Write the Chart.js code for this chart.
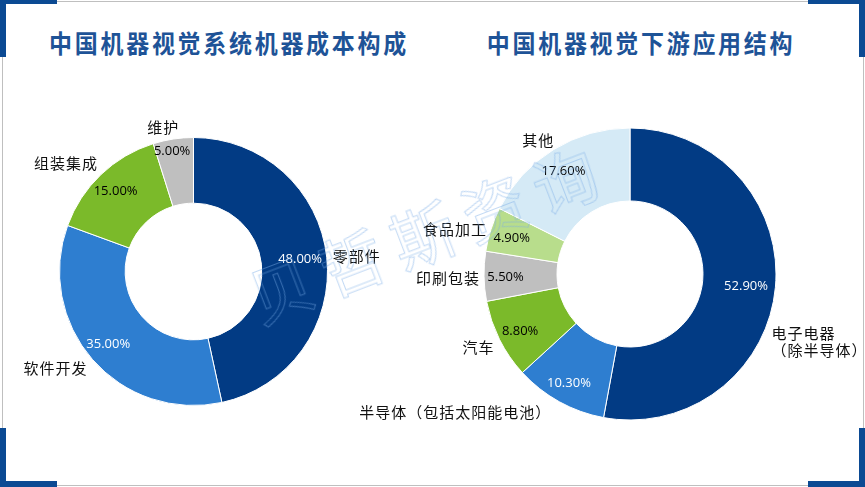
<!DOCTYPE html>
<html>
<head>
<meta charset="utf-8">
<script src="https://cdn.jsdelivr.net/npm/chart.js@4/dist/chart.umd.min.js"></script>
<style>
  html, body { margin: 0; padding: 0; background: #fff; }
  #page { position: relative; width: 865px; height: 487px; overflow: hidden; background: #fff; }
  canvas { position: absolute; left: 0; top: 0; }
  .frame { position: absolute; left: 2px; top: 1px; width: 860px; height: 483px; border: 1px solid #BFBFBF; }
  .corner { position: absolute; background: #0B4A93; }
  .title { position: absolute; top: 27px; font-family: "Noto Sans CJK SC", sans-serif; font-weight: 700;
           font-size: 23px; letter-spacing: 2.7px; color: #1E5397; white-space: nowrap; line-height: 30px;
           transform: translateX(-50%) scaleY(1.08); }
  .wm { position: absolute; left: 250px; top: 252px; font-family: "Noto Sans CJK SC", sans-serif; font-size: 64px;
        font-weight: 400; color: transparent; -webkit-text-stroke: 1px rgba(120,170,230,0.45); letter-spacing: 12px;
        transform-origin: 0 50%; transform: rotate(-21deg); white-space: nowrap; pointer-events: none; }
</style>
</head>
<body>
<div id="page">
  <div class="frame"></div>
  <div class="corner" style="left:0;top:0;width:57px;height:4px"></div>
  <div class="corner" style="left:0;top:0;width:6px;height:57px"></div>
  <div class="corner" style="right:0;top:0;width:57px;height:4px"></div>
  <div class="corner" style="right:0;top:0;width:6px;height:57px"></div>
  <div class="corner" style="left:0;bottom:0;width:57px;height:6px"></div>
  <div class="corner" style="left:0;bottom:0;width:6px;height:59px"></div>
  <div class="corner" style="right:0;bottom:0;width:57px;height:6px"></div>
  <div class="corner" style="right:0;bottom:0;width:6px;height:59px"></div>
  <div class="title" style="left:229px">中国机器视觉系统机器成本构成</div>
  <div class="title" style="left:641px">中国机器视觉下游应用结构</div>
  <canvas id="c1" width="865" height="487"></canvas>
  <canvas id="c2" width="865" height="487"></canvas>
  <div class="wm">贝哲斯资询</div>
</div>
<script>
// ---------- data ----------
const costLabels = ['零部件', '软件开发', '组装集成', '维护'];
const costValues = [48.00, 35.00, 15.00, 5.00];
const costColors = ['#023B84', '#2E7ED0', '#7BBA2A', '#BFBFBF'];

const useLabels = [['电子电器', '（除半导体）'], ['半导体（包括太阳能电池）'], ['汽车'], ['印刷包装'], ['食品加工'], ['其他']];
const useValues = [52.90, 10.30, 8.80, 5.50, 4.90, 17.60];
const useColors = ['#023B84', '#2E7ED0', '#7BBA2A', '#BFBFBF', '#B8DD8C', '#D5EAF6'];

// ---------- label layout (styles / offsets) ----------
const costPctStyle = { colors: ['#fff', '#fff', '#000', '#000'], offsets: [[6, -1], [-9, 6], [-8, -7], [-6, -20]] };
const costNameStyle = { align: ['left', 'right', 'right', 'center'], offsets: [[6, -1], [-5, 9], [-3, -11], [-10, -12]] };
const usePctStyle = { colors: ['#fff', '#fff', '#000', '#000', '#000', '#000'], offsets: [[7, 2], [-8, 14], [-12, 8], [-15, 2], [-14, -2], [-9, -10]] };
const useNameStyle = { align: ['left', 'right', 'right', 'right', 'right', 'center'], offsets: [[-4, 46], [-8, 11], [-5, 8], [-4, 2], [-4, 0], [-15, -9]] };

function labelPlugin(names, pctStyle, nameStyle) {
  return {
    id: 'sliceLabels',
    afterDatasetsDraw(chart) {
      const ctx = chart.ctx;
      const meta = chart.getDatasetMeta(0);
      const values = chart.data.datasets[0].data;
      meta.data.forEach((arc, i) => {
        const p = arc.getProps(['x', 'y', 'startAngle', 'endAngle', 'innerRadius', 'outerRadius'], true);
        const mid = (p.startAngle + p.endAngle) / 2;
        const rm = (p.innerRadius + p.outerRadius) / 2;
        const cx = p.x + Math.cos(mid) * rm, cy = p.y + Math.sin(mid) * rm;
        ctx.save();
        ctx.textBaseline = 'middle';
        ctx.textAlign = 'center';
        ctx.font = '13px "Open Sans", "Liberation Sans", sans-serif';
        ctx.fillStyle = pctStyle.colors[i];
        ctx.fillText(values[i].toFixed(2) + '%', cx + pctStyle.offsets[i][0], cy + pctStyle.offsets[i][1]);
        const ox = p.x + Math.cos(mid) * p.outerRadius, oy = p.y + Math.sin(mid) * p.outerRadius;
        ctx.font = '15px "Noto Sans CJK SC", sans-serif';
        ctx.letterSpacing = '1px';
        ctx.fillStyle = '#111';
        ctx.textAlign = nameStyle.align[i];
        const lines = Array.isArray(names[i]) ? names[i] : [names[i]];
        lines.forEach((ln, k) => {
          ctx.fillText(ln, ox + nameStyle.offsets[i][0], oy + nameStyle.offsets[i][1] + k * 17);
        });
        ctx.restore();
      });
    }
  };
}

function makeChart(id, labels, values, colors, pad, cutout, plugin) {
  return new Chart(document.getElementById(id), {
    type: 'doughnut',
    data: { labels: labels.map(l => Array.isArray(l) ? l.join('') : l),
            datasets: [{ data: values, backgroundColor: colors, borderColor: '#ffffff', borderWidth: 1 }] },
    options: {
      responsive: false, animation: false, events: [],
      cutout: cutout,
      layout: { padding: pad },
      plugins: { legend: { display: false }, tooltip: { enabled: false } }
    },
    plugins: [plugin]
  });
}

makeChart('c1', costLabels, costValues, costColors,
  { left: 59, top: 137, right: 537, bottom: 81 }, '51%',
  labelPlugin(costLabels, costPctStyle, costNameStyle));
makeChart('c2', useLabels, useValues, useColors,
  { left: 483.5, top: 127.5, right: 88.5, bottom: 66.5 }, '50%',
  labelPlugin(useLabels, usePctStyle, useNameStyle));
</script>
</body>
</html>
